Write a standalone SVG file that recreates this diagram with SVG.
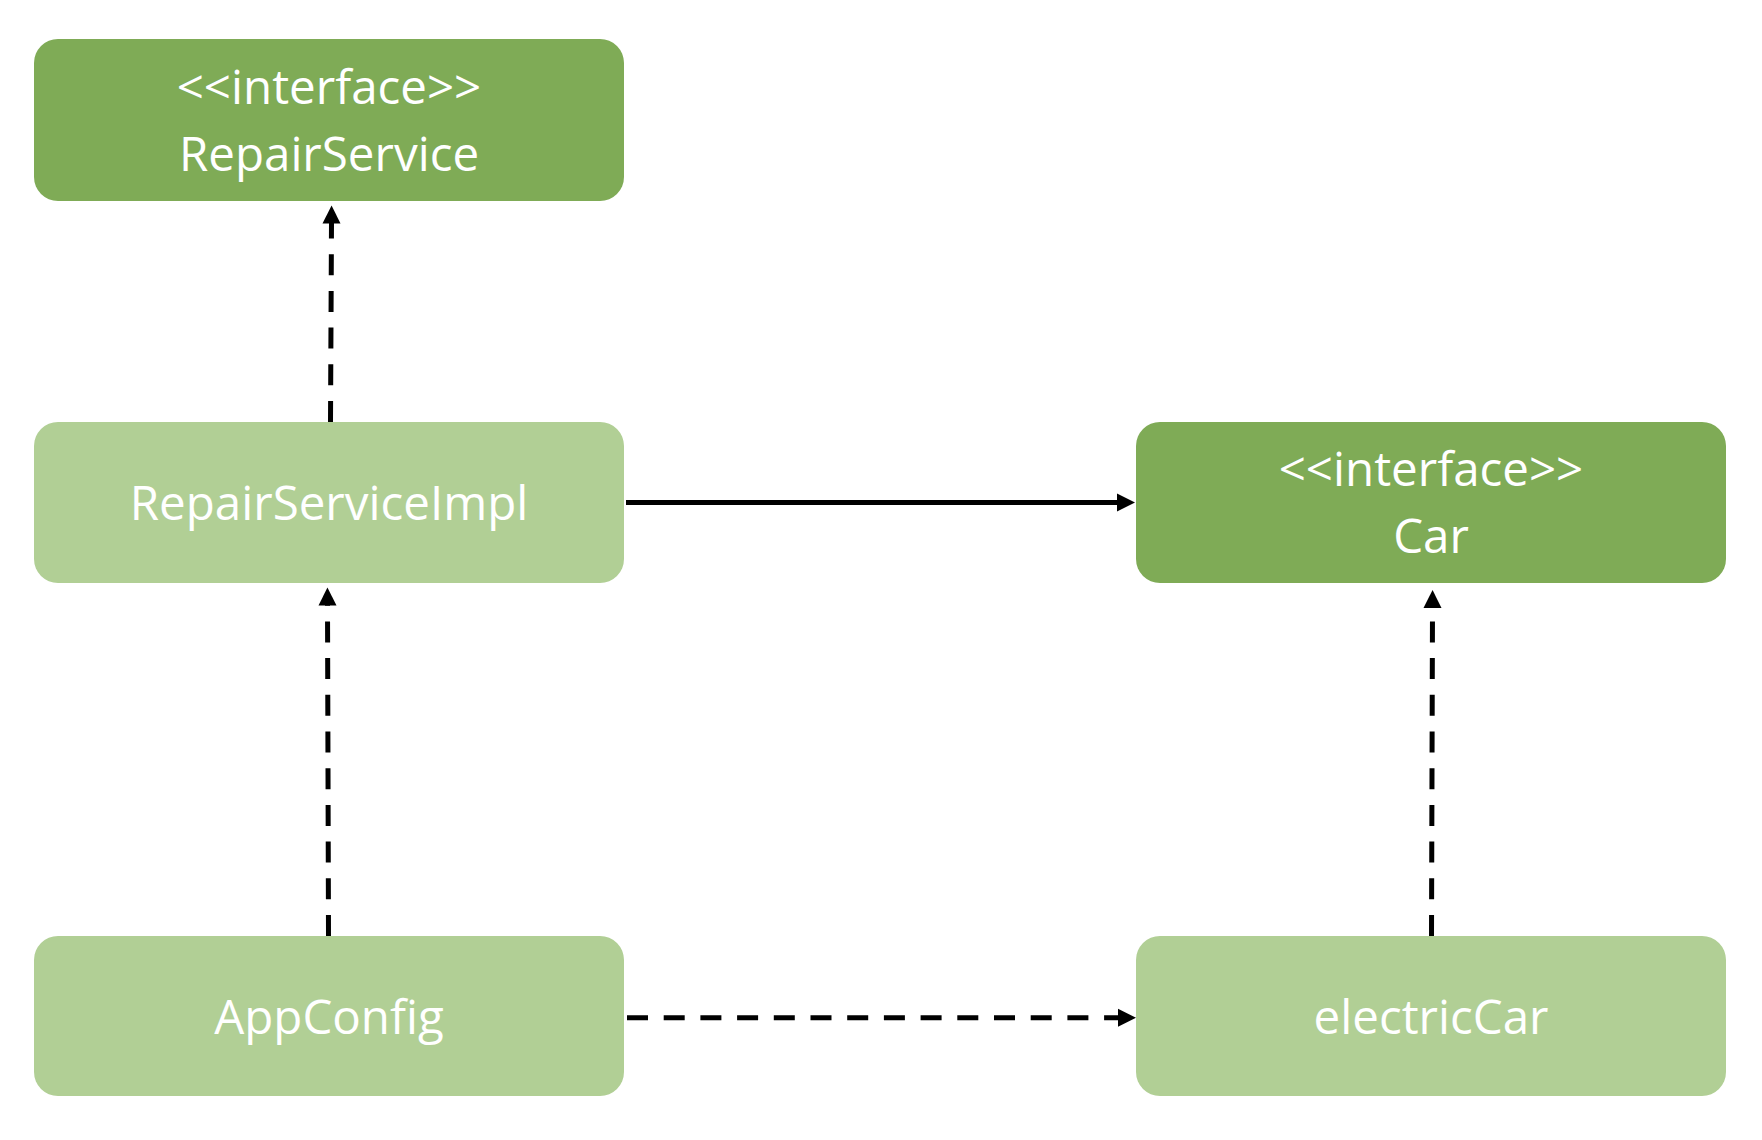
<svg xmlns="http://www.w3.org/2000/svg" width="1762" height="1140" viewBox="0 0 1762 1140">
  <style>
    .iface { fill: #7FAB56; }
    .impl { fill: #B1CF95; }
    .lbl { fill: #FFFFFF; font-family: "Open Sans", "Noto Sans", "Liberation Sans", sans-serif; font-size: 47.5px; text-anchor: middle; }
    .conn { fill: none; stroke: #000000; stroke-width: 5; stroke-linecap: butt; marker-end: url(#arrow); }
    .dash { stroke-dasharray: 21 15.7; }
  </style>
  <defs>
    <marker id="arrow" markerUnits="userSpaceOnUse" markerWidth="18" markerHeight="18" refX="1" refY="9" orient="auto" overflow="visible">
      <path d="M0,0 L18,9 L0,18 Z" fill="#000000"/>
    </marker>
  </defs>
  <rect width="1762" height="1140" fill="#FFFFFF"/>

  <g id="RepairService">
    <rect class="iface" x="34" y="39" width="590" height="162" rx="24" ry="24"/>
    <text class="lbl" x="329" y="104">&lt;&lt;interface&gt;&gt;</text>
    <text class="lbl" x="329" y="171">RepairService</text>
  </g>
  <g id="RepairServiceImpl">
    <rect class="impl" x="34" y="422" width="590" height="161" rx="24" ry="24"/>
    <text class="lbl" x="329" y="520">RepairServiceImpl</text>
  </g>
  <g id="AppConfig">
    <rect class="impl" x="34" y="936" width="590" height="160" rx="24" ry="24"/>
    <text class="lbl" x="329" y="1034">AppConfig</text>
  </g>
  <g id="Car">
    <rect class="iface" x="1136" y="422" width="590" height="161" rx="24" ry="24"/>
    <text class="lbl" x="1431" y="486">&lt;&lt;interface&gt;&gt;</text>
    <text class="lbl" x="1431" y="553">Car</text>
  </g>
  <g id="electricCar">
    <rect class="impl" x="1136" y="936" width="590" height="160" rx="24" ry="24"/>
    <text class="lbl" x="1431" y="1034">electricCar</text>
  </g>

  <g id="connectors">
    <path class="conn dash" d="M330.5,422 L331.5,222.5"/>
    <path class="conn" d="M626,502.5 L1118,502.5"/>
    <path class="conn dash" d="M328.5,936 L327.5,604.5"/>
    <path class="conn dash" d="M627,1017.7 L1119,1017.7"/>
    <path class="conn dash" d="M1431.5,936 L1432.5,607"/>
  </g>
</svg>
